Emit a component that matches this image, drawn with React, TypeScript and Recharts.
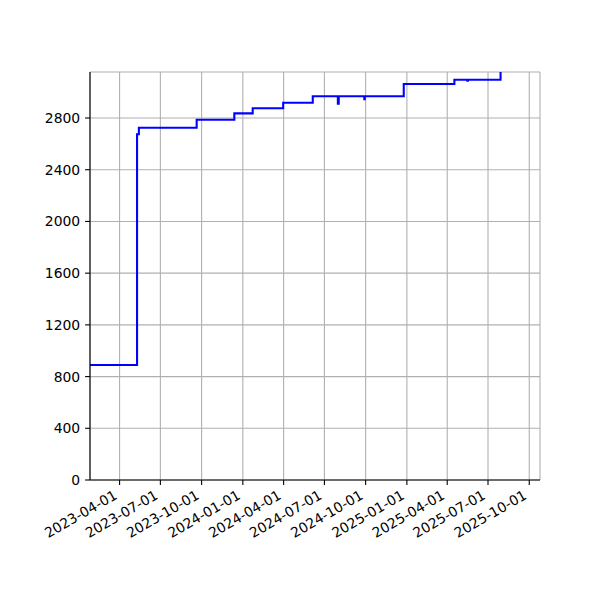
import React from 'react';
import { LineChart, Line, XAxis, YAxis, CartesianGrid } from 'recharts';

// step dates (where the count changes) and the count from that day on
const stepDates = [
  '2023-01-25', '2023-05-10', '2023-05-14', '2023-09-20', '2023-12-13',
  '2024-01-23', '2024-03-31', '2024-06-05', '2024-07-31', '2024-08-02',
  '2024-09-28', '2024-09-29', '2024-12-25', '2025-04-17', '2025-05-16',
  '2025-05-17', '2025-07-29',
];
const counts = [
  890, 2674, 2725, 2787, 2836,
  2875, 2918, 2968, 2911, 2968,
  2945, 2968, 3063, 3096, 3088,
  3096, 3300,
];
const xTickLabels = [
  '2023-04-01', '2023-07-01', '2023-10-01', '2024-01-01', '2024-04-01', '2024-07-01',
  '2024-10-01', '2025-01-01', '2025-04-01', '2025-07-01', '2025-10-01',
];
const yTicks = [0, 400, 800, 1200, 1600, 2000, 2400, 2800];

const toTs = (s: string) => Date.parse(s + 'T00:00:00Z');
const fmt = (t: number) => new Date(t).toISOString().slice(0, 10);

const data = stepDates.map((d, i) => ({ t: toTs(d), v: counts[i] }));
const xTicks = xTickLabels.map(toTs);
const xDomain = [toTs('2023-01-25'), toTs('2025-10-25')];
const yDomain = [0, 3156];

const FONT = '"DejaVu Sans", sans-serif';
const SPINE = { stroke: '#000', strokeWidth: 1.1 };

// rotated date label, right end sits just left of the tick (like autofmt_xdate)
const DateTick = (props: any) => {
  const { x, payload } = props;
  const bx = x - 1.5;
  const by = 498;
  return (
    <text
      x={bx}
      y={by}
      transform={`rotate(-30, ${bx}, ${by})`}
      textAnchor="end"
      fontSize={13.9}
      fontFamily={FONT}
      fill="#000"
    >
      {fmt(payload.value)}
    </text>
  );
};

export default function App() {
  return (
    <div style={{ position: 'absolute', left: 0, top: 0, width: 600, height: 600, background: '#fff' }}>
      <LineChart
        width={600}
        height={600}
        data={data}
        margin={{ top: 72, right: 60, bottom: 60, left: 0 }}
      >
        <CartesianGrid stroke="#b0b0b0" strokeWidth={1.1} />
        <XAxis
          dataKey="t"
          type="number"
          scale="time"
          domain={xDomain}
          ticks={xTicks}
          allowDataOverflow
          height={60}
          tickSize={4.9}
          tickLine={SPINE}
          axisLine={SPINE}
          tick={<DateTick />}
          interval={0}
        />
        <XAxis
          xAxisId="top"
          orientation="top"
          type="number"
          domain={xDomain}
          height={0}
          tick={false}
          tickLine={false}
          axisLine={SPINE}
        />
        <YAxis
          type="number"
          domain={yDomain}
          ticks={yTicks}
          allowDataOverflow
          width={90}
          tickSize={4.9}
          tickMargin={4.9}
          tickLine={SPINE}
          axisLine={SPINE}
          tick={{ fill: '#000', fontSize: 13.9, fontFamily: FONT }}
          interval={0}
        />
        <YAxis
          yAxisId="right"
          orientation="right"
          type="number"
          domain={yDomain}
          width={0}
          tick={false}
          tickLine={false}
          axisLine={SPINE}
        />
        <Line
          dataKey="v"
          type="stepAfter"
          stroke="#0000ff"
          strokeWidth={2.08}
          dot={false}
          isAnimationActive={false}
        />
      </LineChart>
    </div>
  );
}
